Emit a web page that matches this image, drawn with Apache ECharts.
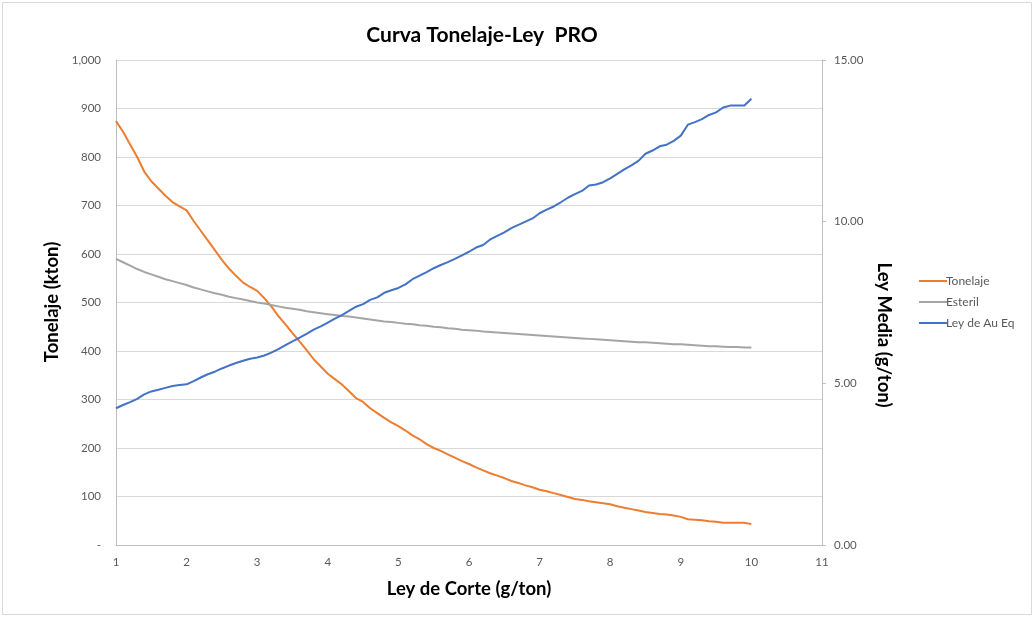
<!DOCTYPE html>
<html>
<head>
<meta charset="utf-8">
<script src="https://cdn.jsdelivr.net/npm/echarts@6/dist/echarts.min.js"></script>
<style>
html,body{margin:0;padding:0;background:#fff;}
#c{width:1036px;height:619px;}
</style>
</head>
<body>
<div id="c"></div>
<script>
const leyCorte = [1.0,1.1,1.2,1.3,1.4,1.5,1.6,1.7,1.8,1.9,2.0,2.1,2.2,2.3,2.4,2.5,2.6,2.7,2.8,2.9,3.0,3.1,3.2,3.3,3.4,3.5,3.6,3.7,3.8,3.9,4.0,4.1,4.2,4.3,4.4,4.5,4.6,4.7,4.8,4.9,5.0,5.1,5.2,5.3,5.4,5.5,5.6,5.7,5.8,5.9,6.0,6.1,6.2,6.3,6.4,6.5,6.6,6.7,6.8,6.9,7.0,7.1,7.2,7.3,7.4,7.5,7.6,7.7,7.8,7.9,8.0,8.1,8.2,8.3,8.4,8.5,8.6,8.7,8.8,8.9,9.0,9.1,9.2,9.3,9.4,9.5,9.6,9.7,9.8,9.9,10.0];
const tonelaje = [874,852,826,800,770,750,735,720,707,698,690,668,648,628,608,588,570,555,541,532,524,509,492,472,455,437,420,402,383,368,353,342,331,317,303,295,282,272,262,253,245,236,226,218,208,200,194,187,180,173,167,160,154,148,143,138,132,128,123,119,114,111,107,103,99,95,93,90,88,86,84,80,77,74,71,68,66,64,63,61,58,53,52,51,49,48,46,46,46,46,43];
const esteril = [590,583,576,569,563,558,553,548,544,540,536,531,527,523,519,516,512,509,506,503,500,498,495,492,489,487,485,482,480,478,476,474,472,471,469,467,465,463,461,460,458,456,455,453,452,450,449,447,446,444,443,442,440,439,438,437,436,435,434,433,432,431,430,429,428,427,426,425,424,423,422,421,420,419,418,418,417,416,415,414,414,413,412,411,410,410,409,408,408,407,407];
const leyAu = [4.23,4.33,4.42,4.52,4.66,4.75,4.80,4.86,4.92,4.95,4.97,5.07,5.18,5.28,5.36,5.46,5.55,5.63,5.70,5.76,5.80,5.86,5.95,6.06,6.18,6.30,6.41,6.53,6.66,6.76,6.88,7.00,7.11,7.24,7.37,7.45,7.58,7.66,7.80,7.88,7.95,8.06,8.22,8.33,8.44,8.56,8.66,8.75,8.85,8.96,9.07,9.20,9.28,9.45,9.56,9.67,9.80,9.90,10.00,10.10,10.26,10.37,10.47,10.60,10.74,10.85,10.95,11.12,11.15,11.22,11.34,11.48,11.62,11.74,11.88,12.10,12.20,12.33,12.38,12.50,12.66,13.00,13.08,13.17,13.30,13.38,13.53,13.59,13.59,13.59,13.80];
const seriesNames = ['Tonelaje','Esteril','Ley de Au Eq'];
const titleText = 'Curva Tonelaje-Ley  PRO';
const xTitle = 'Ley de Corte (g/ton)';
const yLeftTitle = 'Tonelaje (kton)';
const yRightTitle = 'Ley Media (g/ton)';

const pair = (ys) => leyCorte.map((x,i)=>[x, ys[i]]);
const FONT = 'Lato, "Liberation Sans", sans-serif';
const lblColor = '#595959';
const titleFont = 'bold 18.5px ' + FONT;

const chart = echarts.init(document.getElementById('c'), null, {renderer:'canvas'});
chart.setOption({
  animation:false,
  backgroundColor:'#fff',
  title:{
    text:titleText, left:477, top:20, textAlign:'center',
    textStyle:{fontFamily:FONT, fontSize:21, fontWeight:'bold', color:'#000'}
  },
  legend:{
    orient:'vertical', left:914, top:270, itemGap:9,
    icon:'rect', itemWidth:28, itemHeight:2,
    textStyle:{fontFamily:FONT, fontSize:12, color:lblColor, padding:[0,0,0,-6]},
    data:seriesNames
  },
  grid:{left:116, right:214, top:60, bottom:74, containLabel:false},
  xAxis:{
    type:'value', min:1, max:11, interval:1,
    axisLine:{show:true, lineStyle:{color:'#bfbfbf'}},
    axisTick:{show:false},
    splitLine:{show:false},
    axisLabel:{fontFamily:FONT, fontSize:11.5, color:lblColor, margin:11}
  },
  yAxis:[{
    type:'value', min:0, max:1000, interval:100,
    axisLine:{show:true, lineStyle:{color:'#bfbfbf'}},
    axisTick:{show:false},
    splitLine:{show:true, lineStyle:{color:'#d9d9d9', width:1}},
    axisLabel:{fontFamily:FONT, fontSize:11.5, color:lblColor, margin:15,
      formatter:(v)=> v===0 ? '-' : v.toLocaleString('en-US')}
  },{
    type:'value', min:0, max:15, interval:5,
    axisLine:{show:true, lineStyle:{color:'#bfbfbf'}},
    axisTick:{show:true, length:4, lineStyle:{color:'#bfbfbf'}},
    splitLine:{show:false},
    axisLabel:{fontFamily:FONT, fontSize:11.5, color:lblColor, margin:12,
      formatter:(v)=> v.toFixed(2)}
  }],
  series:[
    {name:seriesNames[0], type:'line', yAxisIndex:0, data:pair(tonelaje), showSymbol:false, symbol:'none',
     lineStyle:{color:'#ED7D31', width:2}, itemStyle:{color:'#ED7D31'}},
    {name:seriesNames[1], type:'line', yAxisIndex:0, data:pair(esteril), showSymbol:false, symbol:'none',
     lineStyle:{color:'#A5A5A5', width:2}, itemStyle:{color:'#A5A5A5'}},
    {name:seriesNames[2], type:'line', yAxisIndex:1, data:pair(leyAu), showSymbol:false, symbol:'none',
     lineStyle:{color:'#4472C4', width:2}, itemStyle:{color:'#4472C4'}}
  ],
  graphic:[
    {type:'rect', shape:{x:2.5, y:2.5, width:1029, height:612}, style:{fill:'none', stroke:'#d9d9d9', lineWidth:1}, silent:true},
    {type:'text', x:469, y:589, style:{text:xTitle, font:titleFont, fill:'#000', textAlign:'center', textVerticalAlign:'middle'}, silent:true},
    {type:'text', x:52, y:302, rotation:Math.PI/2, style:{text:yLeftTitle, font:titleFont, fill:'#000', textAlign:'center', textVerticalAlign:'middle'}, silent:true},
    {type:'text', x:884, y:335, rotation:-Math.PI/2, style:{text:yRightTitle, font:titleFont, fill:'#000', textAlign:'center', textVerticalAlign:'middle'}, silent:true}
  ]
});
</script>
</body>
</html>
